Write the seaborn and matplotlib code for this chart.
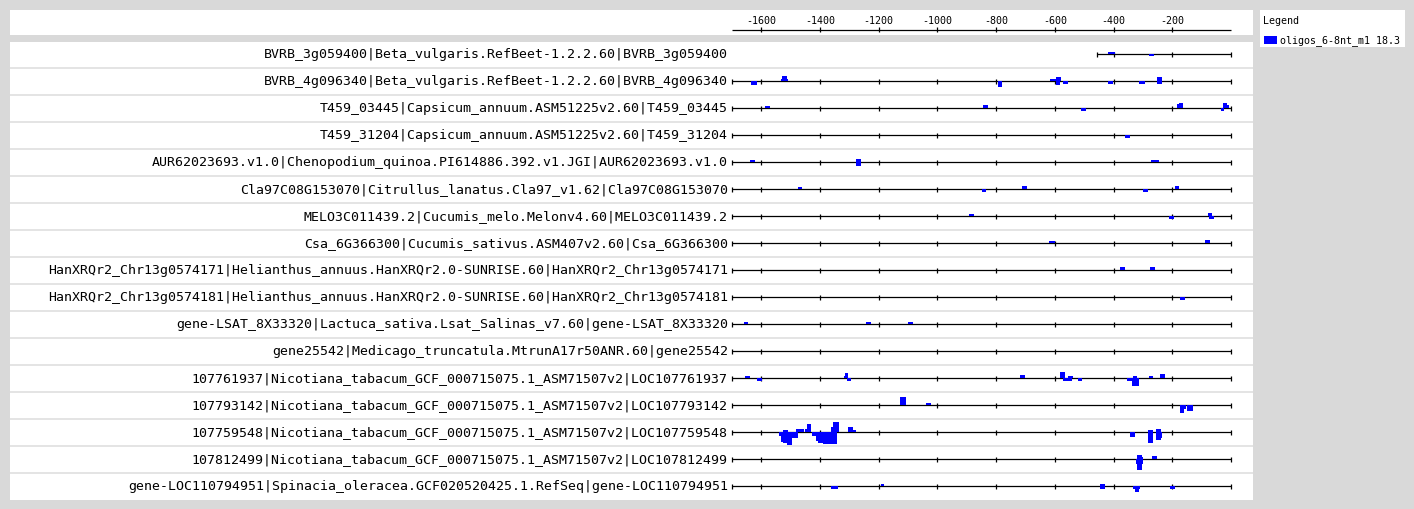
import matplotlib.pyplot as plt
import matplotlib.patches as mpatches
import seaborn as sns
import pandas as pd

# sequence names (one row each) and where each upstream sequence starts
genes = [
    "BVRB_3g059400|Beta_vulgaris.RefBeet-1.2.2.60|BVRB_3g059400",
    "BVRB_4g096340|Beta_vulgaris.RefBeet-1.2.2.60|BVRB_4g096340",
    "T459_03445|Capsicum_annuum.ASM51225v2.60|T459_03445",
    "T459_31204|Capsicum_annuum.ASM51225v2.60|T459_31204",
    "AUR62023693.v1.0|Chenopodium_quinoa.PI614886.392.v1.JGI|AUR62023693.v1.0",
    "Cla97C08G153070|Citrullus_lanatus.Cla97_v1.62|Cla97C08G153070",
    "MELO3C011439.2|Cucumis_melo.Melonv4.60|MELO3C011439.2",
    "Csa_6G366300|Cucumis_sativus.ASM407v2.60|Csa_6G366300",
    "HanXRQr2_Chr13g0574171|Helianthus_annuus.HanXRQr2.0-SUNRISE.60|HanXRQr2_Chr13g0574171",
    "HanXRQr2_Chr13g0574181|Helianthus_annuus.HanXRQr2.0-SUNRISE.60|HanXRQr2_Chr13g0574181",
    "gene-LSAT_8X33320|Lactuca_sativa.Lsat_Salinas_v7.60|gene-LSAT_8X33320",
    "gene25542|Medicago_truncatula.MtrunA17r50ANR.60|gene25542",
    "107761937|Nicotiana_tabacum_GCF_000715075.1_ASM71507v2|LOC107761937",
    "107793142|Nicotiana_tabacum_GCF_000715075.1_ASM71507v2|LOC107793142",
    "107759548|Nicotiana_tabacum_GCF_000715075.1_ASM71507v2|LOC107759548",
    "107812499|Nicotiana_tabacum_GCF_000715075.1_ASM71507v2|LOC107812499",
    "gene-LOC110794951|Spinacia_oleracea.GCF020520425.1.RefSeq|gene-LOC110794951",
]
seq_start = [-458] + [-1700] * 16
seq_end = [0] * 17

axis_ticks = [-1600, -1400, -1200, -1000, -800, -600, -400, -200]

# motif sites: row, start, end, signed height (+ above = D strand, - below = R strand)
hit_row = (
    [0, 0]
    + [1] * 12
    + [2] * 8
    + [3]
    + [4] * 4
    + [5] * 5
    + [6] * 4
    + [7] * 2
    + [8] * 2
    + [9]
    + [10] * 3
    + [12] * 16
    + [13] * 5
    + [14] * 23
    + [15] * 5
    + [16] * 7
)
hit_start = [
    -418, -279,
    -1635, -1533, -1528, -794, -615, -597, -597, -571, -420, -312, -251, -251,
    -1588, -845, -510, -184, -177, -27, -34, -19,
    -360,
    -1638, -1278, -1278, -272,
    -1476, -849, -713, -299, -191,
    -893, -211, -79, -75,
    -621, -89,
    -377, -276,
    -174,
    -1659, -1242, -1099,
    -1655, -1615, -1320, -1314, -1308, -720, -584, -581, -571, -557, -523, -354, -337, -333, -279, -242,
    -1127, -1038, -174, -167, -150,
    -1540, -1533, -1527, -1513, -1496, -1527, -1482, -1452, -1445, -1428, -1415, -1408, -1391,
    -1364, -1357, -1303, -1286, -343, -282, -282, -255, -255, -238,
    -320, -320, -323, -320, -269,
    -1364, -1194, -445, -445, -333, -327, -208,
]
hit_end = [
    -395, -263,
    -1616, -1508, -1514, -781, -597, -579, -581, -554, -403, -294, -236, -236,
    -1571, -828, -493, -172, -165, -15, -23, -8,
    -345,
    -1621, -1259, -1259, -245,
    -1462, -835, -696, -282, -177,
    -876, -194, -65, -59,
    -601, -72,
    -360, -259,
    -157,
    -1645, -1225, -1082,
    -1638, -1598, -1303, -1303, -1296, -703, -570, -564, -543, -540, -506, -313, -313, -320, -265, -225,
    -1106, -1021, -160, -154, -130,
    -1533, -1527, -1513, -1496, -1476, -1510, -1455, -1445, -1432, -1415, -1408, -1391, -1343,
    -1354, -1337, -1286, -1276, -326, -265, -265, -238, -238, -235,
    -303, -300, -299, -303, -252,
    -1340, -1181, -428, -428, -310, -313, -191,
]
hit_score = [
    2, -2,
    -3.5, 2.7, 5.3, -5.7, 2.3, 4.3, -3.3, -2.3, -2.3, -2.3, 4.3, -2.3,
    2.3, 3.3, -2.7, 4, 5.3, 5.3, -2.3, 3,
    -2.3,
    2.3, 3, -3.3, 2.3,
    2.3, -2.3, 3.3, -2.3, 3.3,
    2, -2.7, 3, -2.7,
    2, 3,
    3.3, 3.3,
    -2.7,
    2, 2, 2,
    2.3, -2.3, 2.3, 5, -2.3, 3.3, 2.3, 6.3, -2.3, 2.3, -2.3, -2.3, -7.3, 2.3, 2.3, 4.3,
    8.3, 2.3, -7.7, -4, -5.7,
    -4, -10, -10.7, -13, -6, 2, 3, 3, 8, -4, -9, -11, -12,
    5, 10, 5, 2, -5, -11, 2, 3, -8, -6,
    4, 2, -5, -11, 3,
    -3, 2, 2, -3, -3, -6, -3,
]

sites = pd.DataFrame({"row": hit_row, "start": hit_start, "end": hit_end, "score": hit_score})

sns.set_style("white")
plt.rcParams["font.family"] = ["DejaVu Sans Mono"]
plt.rcParams["text.color"] = "black"

W, H = 1414, 509
grey = "#d9d9d9"
fig = plt.figure(figsize=(W / 100, H / 100), dpi=100)
fig.patch.set_facecolor(grey)


def px_axes(x0, y0, x1, y1):
    a = fig.add_axes([x0 / W, 1 - y1 / H, (x1 - x0) / W, (y1 - y0) / H])
    a.set_facecolor("white")
    a.set_xticks([])
    a.set_yticks([])
    for s in a.spines.values():
        s.set_visible(False)
    return a


# bp <-> pixel: -1600 at 761.3 px, 0.2936 px per bp
px_per_bp = 0.2936
bp_left = -1600 - (761.3 - 10) / px_per_bp
bp_right = -1600 + (1253 - 761.3) / px_per_bp
row_px = 27.0

# ---- top scale ----
top = px_axes(10, 10, 1253, 35)
top.set_xlim(bp_left, bp_right)
top.set_ylim(35, 10)
top.hlines(30, -1700, 0, color="black", lw=0.9)
top.vlines(axis_ticks, 27.5, 32.5, color="black", lw=0.9)
for t in axis_ticks:
    top.text(t, 21, str(t), ha="center", va="center", fontsize=7.2)

# ---- main feature map ----
ax = px_axes(10, 42, 1253, 499.5)
ax.set_xlim(bp_left, bp_right)
ax.set_ylim(16 + 13.2 / row_px, -12.3 / row_px)

for i in range(len(genes) - 1):
    ax.axhline(i + 0.52, color="#dcdcdc", lw=1.1, zorder=0)

for i, name in enumerate(genes):
    ax.hlines(i, seq_start[i], seq_end[i], color="black", lw=0.9, zorder=1)
    ticks = [seq_start[i]] + [t for t in axis_ticks if t > seq_start[i]] + [seq_end[i]]
    ax.vlines(ticks, i - 2.6 / row_px, i + 2.6 / row_px, color="black", lw=0.9, zorder=1)
    ax.annotate(name, (-1700, i), xytext=(-3, 0), textcoords="offset points",
                ha="right", va="center", fontsize=9.5)

ax.bar(sites["start"], -sites["score"] / row_px, width=sites["end"] - sites["start"],
       bottom=sites["row"], align="edge", color="#0000ff", linewidth=0, zorder=2)

# ---- legend ----
leg = px_axes(1260, 10, 1405, 46.7)
leg.set_xlim(1260, 1405)
leg.set_ylim(46.7, 10)
leg.text(1263, 21, "Legend", ha="left", va="center", fontsize=7.2)
leg.add_patch(mpatches.Rectangle((1264, 36), 12.7, 8, color="#0000ff", lw=0))
leg.text(1280, 40.5, "oligos_6-8nt_m1 18.3", ha="left", va="center", fontsize=7.2)

fig.savefig("out.png", dpi=100, facecolor=grey)
